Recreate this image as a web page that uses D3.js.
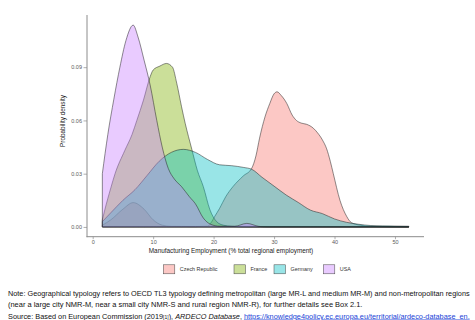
<!DOCTYPE html>
<html>
<head>
<meta charset="utf-8">
<script src="https://cdn.jsdelivr.net/npm/d3@7"></script>
<style>
  body { margin: 0; background: #fff; }
  text { font-family: 'Liberation Sans', Arial, sans-serif; }
</style>
</head>
<body>
<svg id="chart" width="475" height="320"></svg>
<script>
// series names and ggplot default hues
const countries = ['Czech Republic', 'France', 'Germany', 'USA'];
const hues = ['#F8766D', '#7CAE00', '#00BFC4', '#C77CFF'];

// density estimates: [manufacturing share %, density]
const czechDensity = [[1.6,0.001],[3,0.004],[5,0.010],[6.7,0.0137],[8.5,0.010],[10,0.004],[11.5,0.001],[13,0.0003],[17,0.0002],[19,0.0004],
  [19.5,0.002],[20.2,0.006],[21,0.0105],[22,0.017],[23.2,0.0227],[24.9,0.0287],[26.3,0.033],[27,0.040],[27.6,0.050],[28.5,0.062],
  [29.3,0.0696],[30,0.075],[30.5,0.0761],[31.2,0.074],[32.1,0.0696],[33,0.063],[33.7,0.060],[34.5,0.0585],[35.4,0.0578],[36.5,0.0556],
  [37.2,0.053],[38,0.049],[38.7,0.044],[39.3,0.037],[39.8,0.030],[40.9,0.015],[42,0.006],[42.8,0.0024],[44.2,0.001],[46,0.0003],[49,0.0001],[52.3,0]];
const franceDensity = [[1.6,0.004],[2,0.0096],[3,0.022],[3.7,0.030],[5.3,0.043],[6.5,0.052],[7.3,0.060],[8.4,0.0715],[9.5,0.0846],[10,0.0884],
  [11.1,0.0906],[12.2,0.0921],[13.2,0.090],[13.9,0.081],[14.7,0.0677],[15.3,0.0584],[16.4,0.0437],[17.3,0.032],[18.3,0.0227],[19.4,0.0096],
  [20.5,0.003],[21.6,0.001],[23,0.0003],[26,0],[52.3,0]];
const germanyDensity = [[1.6,0.003],[3,0.008],[5,0.015],[7,0.021],[9,0.029],[11,0.037],[13,0.042],[15,0.0437],[17,0.042],[19,0.038],
  [21,0.035],[23,0.0345],[25,0.0335],[26.3,0.0325],[28,0.028],[30,0.023],[32,0.018],[34,0.0138],[36,0.0095],[38,0.0075],[40,0.0045],
  [42,0.0026],[44,0.0015],[46,0.0008],[48,0.0006],[50,0.0005],[52.3,0.0004]];
const usaDensity = [[1.6,0.030],[2.5,0.052],[3.5,0.072],[4.5,0.090],[5.5,0.105],[6.7,0.1137],[7.5,0.107],[8.5,0.094],[9.5,0.080],[10.6,0.060],
  [11.5,0.045],[12.5,0.033],[13.5,0.027],[14.7,0.0227],[16,0.017],[17,0.013],[18.3,0.005],[19.5,0.0015],[21,0.0004],[23.5,0.0004],
  [25.5,0.002],[27.5,0.0003],[29,0],[52.3,0]];
const densities = [czechDensity, franceDensity, germanyDensity, usaDensity];

const xTicks = [0, 10, 20, 30, 40, 50];
const yTicks = [0, 0.03, 0.06, 0.09];

const svg = d3.select('#chart');
const plotLeft = 87, plotRight = 424, plotTop = 15, plotBottom = 236.7;

const x = d3.scaleLinear().domain([-0.94, 54.8]).range([plotLeft, plotRight]);
const y = d3.scaleLinear().domain([-0.0055, 0.1194]).range([plotBottom, plotTop]);

const area = d3.area()
  .x(d => x(d[0]))
  .y0(y(0))
  .y1(d => y(d[1]))
  .curve(d3.curveMonotoneX);

densities.forEach((d, i) => {
  svg.append('path')
    .datum(d)
    .attr('d', area)
    .attr('fill', hues[i])
    .attr('fill-opacity', 0.4)
    .attr('stroke', '#222')
    .attr('stroke-opacity', 0.85)
    .attr('stroke-width', 0.6);
});

// axes
const yAxis = svg.append('g')
  .attr('transform', `translate(${plotLeft},0)`)
  .call(d3.axisLeft(y).tickValues(yTicks).tickFormat(d3.format('.2f')).tickSize(3.5).tickSizeOuter(0).tickPadding(1.5));
const xAxis = svg.append('g')
  .attr('transform', `translate(0,${plotBottom})`)
  .call(d3.axisBottom(x).tickValues(xTicks).tickSize(2.5).tickSizeOuter(0).tickPadding(1));

[yAxis, xAxis].forEach(a => {
  a.select('.domain').attr('stroke', '#8c8c8c').attr('stroke-width', 1);
  a.selectAll('.tick line').attr('stroke', '#8c8c8c').attr('stroke-width', 0.7);
  a.selectAll('.tick text').attr('fill', '#5a5a5a').attr('font-size', 5.5)
    .attr('font-family', "'Liberation Sans', Arial, sans-serif");
});
// ggplot stops the y line at the bottom of the x line
yAxis.select('.domain').attr('d', `M0,${plotTop}V${plotBottom + 0.5}`);
xAxis.select('.domain').attr('d', `M${-0.5 + plotLeft},0H${plotRight}`);

// axis titles
svg.append('text')
  .attr('x', 231).attr('y', 253.2)
  .attr('text-anchor', 'middle')
  .attr('font-size', 6.4).attr('fill', '#222')
  .text('Manufacturing Employment (% total regional employment)');

svg.append('text')
  .attr('transform', 'translate(65.3,121) rotate(-90)')
  .attr('text-anchor', 'middle')
  .attr('font-size', 6.4).attr('fill', '#222')
  .text('Probability density');

// legend
const legendBoxX = [163.3, 234, 274, 323.3];
const legend = svg.append('g');
countries.forEach((c, i) => {
  legend.append('rect')
    .attr('x', legendBoxX[i]).attr('y', 264.8)
    .attr('width', 11.5).attr('height', 9)
    .attr('fill', hues[i]).attr('fill-opacity', 0.4)
    .attr('stroke', '#444').attr('stroke-width', 0.5);
  legend.append('text')
    .attr('x', legendBoxX[i] + 16.5).attr('y', 271.3)
    .attr('font-size', 5.4).attr('fill', '#333')
    .text(c);
});

// notes below the chart, squeezed horizontally like the narrow source font
function noteLine(yPos, width, parts) {
  const t = svg.append('text').attr('font-size', 8).attr('fill', '#111');
  parts.forEach(p => {
    const s = t.append('tspan').text(p.text);
    if (p.italic) s.attr('font-style', 'italic');
    if (p.small) s.attr('font-size', 5.5);
    if (p.link) s.attr('fill', '#1a3fd6').attr('text-decoration', 'underline');
  });
  const natural = t.node().getComputedTextLength();
  t.attr('transform', `translate(8,${yPos}) scale(${width / natural},1)`);
}
noteLine(295.5, 462, [{ text: 'Note: Geographical typology refers to OECD TL3 typology defining metropolitan (large MR-L and medium MR-M) and non-metropolitan regions' }]);
noteLine(307, 355, [{ text: '(near a large city NMR-M, near a small city NMR-S and rural region NMR-R), for further details see Box 2.1.' }]);
noteLine(318.5, 463, [
  { text: 'Source: Based on European Commission (2019' },
  { text: '[1]', small: true },
  { text: '), ' },
  { text: 'ARDECO Database', italic: true },
  { text: ', ' },
  { text: 'https://knowledge4policy.ec.europa.eu/territorial/ardeco-database_en.', link: true }
]);
</script>
</body>
</html>
